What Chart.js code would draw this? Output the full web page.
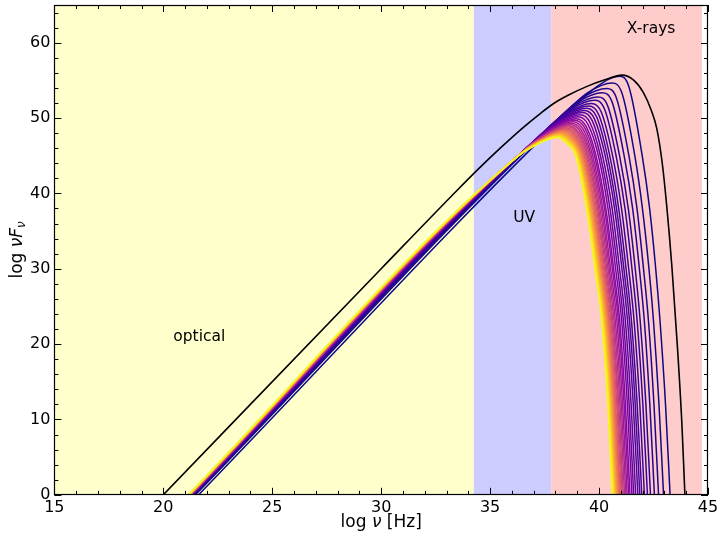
<!DOCTYPE html>
<html>
<head>
<meta charset="utf-8">
<script src="https://cdn.jsdelivr.net/npm/chart.js@4.4.1/dist/chart.umd.min.js"></script>
<style>
  html, body { margin: 0; padding: 0; background: #fff; }
  #wrap { width: 721px; height: 535px; }
</style>
</head>
<body>
<div id="wrap"><canvas id="sedChart" width="721" height="535"></canvas></div>
<script>
// axis ticks
var xTickValues = [15, 20, 25, 30, 35, 40, 45];
var yTickValues = [0, 10, 20, 30, 40, 50, 60];

// shaded bands (log nu limits)
var bandLabels = ['optical', 'UV', 'X-rays'];
var bandStart = [15, 34.25, 37.8];
var bandEnd = [34.25, 37.8, 44.72];

// black curve
var blackX = [20.0, 30.0, 33.5, 34.5, 35.5, 36.5, 37.3, 37.9, 38.6, 39.45, 40.3, 41.05, 41.6, 42.03, 42.4, 42.65, 42.9, 43.1, 43.35, 43.6, 43.8, 43.94];
var blackY = [0.0, 30.0, 40.45, 43.35, 46.1, 48.7, 50.6, 51.9, 53.05, 54.2, 55.1, 55.7, 55.0, 53.4, 51.0, 48.6, 44.0, 38.5, 30.0, 19.5, 9.5, 0.0];

// family of coloured curves, index 0 = darkest (highest peak) ... last = yellow
var fanStartX = [21.62, 21.48, 21.43, 21.40, 21.38, 21.36, 21.35, 21.34, 21.33, 21.32, 21.31, 21.30, 21.30, 21.29, 21.28, 21.27, 21.27, 21.26, 21.25, 21.24, 21.23, 21.23, 21.22, 21.21, 21.20, 21.20, 21.19, 21.18, 21.18, 21.17, 21.17, 21.16, 21.16, 21.15];
var fanKneeX = [39.02, 38.70, 38.45, 38.25, 38.05, 37.90, 37.75, 37.63, 37.53, 37.43, 37.33, 37.23, 37.14, 37.05, 36.98, 36.91, 36.84, 36.78, 36.72, 36.67, 36.62, 36.57, 36.53, 36.49, 36.45, 36.42, 36.38, 36.35, 36.32, 36.29, 36.26, 36.23, 36.21, 36.17];
var fanKneeY = [51.95, 51.40, 50.79, 50.27, 49.72, 49.33, 48.90, 48.57, 48.29, 48.02, 47.74, 47.47, 47.20, 46.95, 46.77, 46.59, 46.38, 46.22, 46.07, 45.95, 45.83, 45.67, 45.58, 45.49, 45.40, 45.31, 45.22, 45.16, 45.07, 45.00, 44.91, 44.85, 44.79, 44.70];
var fanShoulderX = [39.82, 39.50, 39.25, 39.05, 38.85, 38.70, 38.55, 38.43, 38.33, 38.23, 38.13, 38.03, 37.94, 37.85, 37.78, 37.71, 37.64, 37.58, 37.52, 37.47, 37.42, 37.37, 37.33, 37.29, 37.25, 37.22, 37.18, 37.15, 37.12, 37.09, 37.06, 37.03, 37.01, 36.97];
var fanShoulderY = [54.00, 53.39, 52.73, 52.17, 51.59, 51.16, 50.71, 50.35, 50.05, 49.76, 49.47, 49.18, 48.88, 48.62, 48.43, 48.23, 48.00, 47.84, 47.68, 47.54, 47.41, 47.25, 47.15, 47.05, 46.95, 46.86, 46.76, 46.69, 46.59, 46.53, 46.43, 46.36, 46.30, 46.20];
var fanPeakX = [40.92, 40.60, 40.35, 40.15, 39.95, 39.80, 39.65, 39.53, 39.43, 39.33, 39.23, 39.13, 39.04, 38.95, 38.88, 38.81, 38.74, 38.68, 38.62, 38.57, 38.52, 38.47, 38.43, 38.39, 38.35, 38.32, 38.28, 38.25, 38.22, 38.19, 38.16, 38.13, 38.11, 38.07];
var fanPeakY = [55.55, 54.64, 53.92, 53.35, 52.78, 52.35, 51.92, 51.58, 51.29, 51.00, 50.72, 50.43, 50.17, 49.92, 49.72, 49.52, 49.32, 49.14, 48.97, 48.83, 48.69, 48.54, 48.43, 48.32, 48.20, 48.12, 48.00, 47.91, 47.83, 47.74, 47.66, 47.57, 47.51, 47.40];
var fanTopFallX = [41.37, 41.05, 40.80, 40.60, 40.40, 40.25, 40.10, 39.98, 39.88, 39.78, 39.68, 39.58, 39.49, 39.40, 39.33, 39.26, 39.19, 39.13, 39.07, 39.02, 38.97, 38.92, 38.88, 38.84, 38.80, 38.77, 38.73, 38.70, 38.67, 38.64, 38.61, 38.58, 38.56, 38.52];
var fanTopFallY = [54.15, 53.31, 52.64, 52.11, 51.58, 51.19, 50.79, 50.47, 50.20, 49.93, 49.68, 49.41, 49.17, 48.93, 48.75, 48.56, 48.38, 48.21, 48.05, 47.92, 47.79, 47.66, 47.55, 47.45, 47.34, 47.27, 47.16, 47.07, 47.00, 46.91, 46.84, 46.76, 46.70, 46.60];
// x where each curve crosses these levels on its falling side
var fanCutY = [45, 38, 30, 23, 12, 0];
var fanCut45 = [41.98, 41.64, 41.37, 41.15, 40.94, 40.78, 40.62, 40.49, 40.38, 40.28, 40.16, 40.06, 39.97, 39.86, 39.79, 39.71, 39.64, 39.58, 39.51, 39.46, 39.40, 39.35, 39.31, 39.27, 39.22, 39.19, 39.15, 39.12, 39.08, 39.05, 39.01, 38.99, 38.97, 38.92];
var fanCut38 = [42.32, 41.99, 41.74, 41.54, 41.34, 41.19, 41.03, 40.90, 40.80, 40.71, 40.60, 40.50, 40.41, 40.31, 40.25, 40.17, 40.11, 40.04, 39.98, 39.93, 39.88, 39.82, 39.79, 39.75, 39.70, 39.67, 39.64, 39.61, 39.57, 39.54, 39.51, 39.49, 39.46, 39.42];
var fanCut30 = [42.60, 42.29, 42.04, 41.85, 41.66, 41.51, 41.36, 41.24, 41.14, 41.05, 40.94, 40.85, 40.76, 40.67, 40.61, 40.53, 40.47, 40.41, 40.35, 40.30, 40.25, 40.20, 40.17, 40.12, 40.08, 40.05, 40.02, 39.99, 39.96, 39.93, 39.89, 39.87, 39.85, 39.81];
var fanCut23 = [42.80, 42.50, 42.27, 42.08, 41.89, 41.75, 41.61, 41.49, 41.40, 41.31, 41.21, 41.12, 41.04, 40.95, 40.89, 40.82, 40.75, 40.69, 40.63, 40.59, 40.54, 40.49, 40.46, 40.42, 40.38, 40.35, 40.32, 40.29, 40.26, 40.23, 40.20, 40.18, 40.16, 40.12];
var fanCut12 = [43.05, 42.75, 42.52, 42.33, 42.15, 42.01, 41.87, 41.75, 41.66, 41.57, 41.47, 41.38, 41.30, 41.21, 41.15, 41.08, 41.02, 40.96, 40.90, 40.86, 40.81, 40.76, 40.73, 40.69, 40.65, 40.62, 40.59, 40.57, 40.54, 40.51, 40.48, 40.46, 40.44, 40.40];
var fanCut0 = [43.26, 42.96, 42.73, 42.54, 42.36, 42.22, 42.08, 41.96, 41.87, 41.78, 41.68, 41.59, 41.51, 41.42, 41.36, 41.29, 41.23, 41.17, 41.11, 41.07, 41.02, 40.97, 40.94, 40.90, 40.86, 40.83, 40.80, 40.77, 40.74, 40.71, 40.68, 40.66, 40.64, 40.60];

// styling
var bandColors = ['#ffffcc', '#ccccff', '#ffcccc'];
var bandTextPos = [[21.65, 21.0], [36.56, 36.7], [42.39, 61.8]];
var fontFamily = '"DejaVu Sans", sans-serif';

var plasmaStops = [
    [13, 8, 135], [65, 4, 157], [106, 0, 168], [143, 13, 164], [177, 42, 144],
    [204, 71, 120], [225, 100, 98], [242, 132, 75], [252, 166, 54], [252, 206, 37], [240, 249, 33]
];

function plasma(t) {
    t = Math.max(0, Math.min(1, t));
    var p = t * 10;
    var i = Math.min(9, Math.floor(p));
    var f = p - i;
    var a = plasmaStops[i], b = plasmaStops[i + 1];
    var r = Math.round(a[0] + (b[0] - a[0]) * f);
    var g = Math.round(a[1] + (b[1] - a[1]) * f);
    var bl = Math.round(a[2] + (b[2] - a[2]) * f);
    return 'rgb(' + r + ',' + g + ',' + bl + ')';
}

function fanColor(k) {
    // the outer, well separated lines are the dark end of the map
    if (k < 10) return plasma(0.015 * k);
    return plasma(0.16 + 0.84 * (k - 10) / (fanStartX.length - 11));
}

function buildFanCurve(k) {
    var pts = [
        {x: fanStartX[k], y: 0},
        {x: fanKneeX[k], y: fanKneeY[k]},
        {x: fanShoulderX[k], y: fanShoulderY[k]},
        {x: fanPeakX[k], y: fanPeakY[k]},
        {x: fanTopFallX[k], y: fanTopFallY[k]}
    ];
    var cuts = [fanCut45, fanCut38, fanCut30, fanCut23, fanCut12, fanCut0];
    for (var j = 0; j < cuts.length; j++) {
        pts.push({x: cuts[j][k], y: fanCutY[j]});
    }
    return pts;
}

var datasets = [];
var blackPts = [];
for (var i = 0; i < blackX.length; i++) {
    blackPts.push({x: blackX[i], y: blackY[i]});
}
datasets.push({
    data: blackPts,
    borderColor: '#000000',
    borderWidth: 1.6,
    pointRadius: 0,
    cubicInterpolationMode: 'monotone'
});
// first dataset is painted last, so put yellow before the dark ones
for (var k = fanStartX.length - 1; k >= 0; k--) {
    datasets.push({
        data: buildFanCurve(k),
        borderColor: fanColor(k),
        borderWidth: 1.5,
        pointRadius: 0,
        cubicInterpolationMode: 'monotone'
    });
}

function richText(ctx, parts, size) {
    var w = 0;
    parts.forEach(function (p) {
        ctx.font = (p.italic ? 'italic ' : '') + (size * (p.sub ? 0.7 : 1)).toFixed(1) + 'px ' + fontFamily;
        p.w = ctx.measureText(p.t).width;
        w += p.w;
    });
    var x = -w / 2;
    parts.forEach(function (p) {
        ctx.font = (p.italic ? 'italic ' : '') + (size * (p.sub ? 0.7 : 1)).toFixed(1) + 'px ' + fontFamily;
        ctx.fillText(p.t, x, p.sub ? size * 0.25 : 0);
        x += p.w;
    });
}

var bandPlugin = {
    id: 'bands',
    beforeDatasetsDraw: function (chart) {
        var ctx = chart.ctx, area = chart.chartArea, xs = chart.scales.x;
        ctx.save();
        for (var i = 0; i < bandStart.length; i++) {
            var x0 = Math.max(area.left, xs.getPixelForValue(bandStart[i]));
            var x1 = Math.min(area.right, xs.getPixelForValue(bandEnd[i]));
            ctx.fillStyle = bandColors[i];
            ctx.fillRect(x0, area.top, x1 - x0, area.bottom - area.top);
        }
        ctx.restore();
    }
};

var framePlugin = {
    id: 'frame',
    afterDatasetsDraw: function (chart) {
        var ctx = chart.ctx, area = chart.chartArea;
        var xs = chart.scales.x, ys = chart.scales.y;
        ctx.save();
        ctx.strokeStyle = '#000';
        ctx.lineWidth = 1;
        ctx.beginPath();
        var v, p, len;
        for (v = 15; v <= 45; v++) {
            p = Math.round(xs.getPixelForValue(v)) + 0.5;
            len = (v % 5 === 0) ? 7 : 4;
            ctx.moveTo(p, area.bottom); ctx.lineTo(p, area.bottom - len);
            ctx.moveTo(p, area.top); ctx.lineTo(p, area.top + len);
        }
        for (v = 0; v <= 65; v += 2) {
            p = Math.round(ys.getPixelForValue(v)) + 0.5;
            len = (v % 10 === 0) ? 7 : 4;
            ctx.moveTo(area.left, p); ctx.lineTo(area.left + len, p);
            ctx.moveTo(area.right, p); ctx.lineTo(area.right - len, p);
        }
        ctx.stroke();
        ctx.lineWidth = 1.2;
        ctx.strokeRect(Math.round(area.left) + 0.5, Math.round(area.top) + 0.5,
            Math.round(area.right - area.left) - 1, Math.round(area.bottom - area.top) - 1);

        // band names
        ctx.fillStyle = '#000';
        ctx.font = '15.5px ' + fontFamily;
        ctx.textAlign = 'center';
        ctx.textBaseline = 'middle';
        for (var i = 0; i < bandLabels.length; i++) {
            ctx.fillText(bandLabels[i], xs.getPixelForValue(bandTextPos[i][0]), ys.getPixelForValue(bandTextPos[i][1]));
        }

        // axis titles
        ctx.textAlign = 'left';
        ctx.textBaseline = 'middle';
        ctx.save();
        ctx.translate((area.left + area.right) / 2, area.bottom + 28);
        richText(ctx, [{t: 'log '}, {t: '\u03bd', italic: true}, {t: ' [Hz]'}], 17);
        ctx.restore();
        ctx.save();
        ctx.translate(18, (area.top + area.bottom) / 2);
        ctx.rotate(-Math.PI / 2);
        richText(ctx, [{t: 'log '}, {t: '\u03bdF', italic: true}, {t: '\u03bd', italic: true, sub: true}], 17);
        ctx.restore();
        ctx.restore();
    }
};

function noEdgePadding(scale) {
    scale.paddingTop = 0;
    scale.paddingBottom = 0;
    scale.paddingLeft = 0;
    scale.paddingRight = 0;
}

new Chart(document.getElementById('sedChart'), {
    type: 'line',
    data: { datasets: datasets },
    options: {
        responsive: false,
        devicePixelRatio: 1,
        animation: false,
        events: [],
        layout: { padding: { left: 26, right: 13, top: 5, bottom: 15 } },
        plugins: { legend: { display: false }, tooltip: { enabled: false } },
        scales: {
            x: {
                type: 'linear',
                min: 15,
                max: 45,
                afterBuildTicks: function (scale) {
                    scale.ticks = xTickValues.map(function (v) { return {value: v}; });
                },
                afterFit: noEdgePadding,
                grid: { display: false, drawTicks: false },
                border: { display: false },
                ticks: { color: '#000', padding: 3, maxRotation: 0, font: { family: fontFamily, size: 16 } }
            },
            y: {
                type: 'linear',
                min: 0,
                max: 65,
                afterBuildTicks: function (scale) {
                    scale.ticks = yTickValues.map(function (v) { return {value: v}; });
                },
                afterFit: noEdgePadding,
                grid: { display: false, drawTicks: false },
                border: { display: false },
                ticks: { color: '#000', padding: 4, font: { family: fontFamily, size: 16 } }
            }
        }
    },
    plugins: [bandPlugin, framePlugin]
});
</script>
</body>
</html>
